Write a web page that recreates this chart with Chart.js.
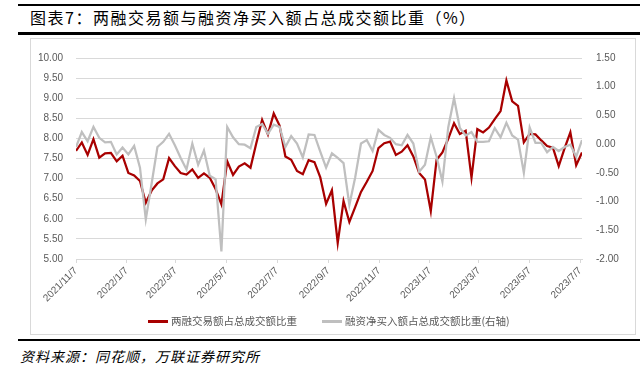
<!DOCTYPE html>
<html>
<head>
<meta charset="utf-8">
<script src="https://cdn.jsdelivr.net/npm/chart.js@4.4.0/dist/chart.umd.min.js"></script>
<style>
  body { margin: 0; width: 644px; height: 372px; background: #fff; position: relative; overflow: hidden;
         font-family: "Noto Sans CJK SC", sans-serif; }
  .rule { position: absolute; left: 18px; width: 622px; background: #000; }
  #title { position: absolute; left: 30px; top: 7px; font-size: 16px; letter-spacing: 1.5px; line-height: 20px; color: #000; white-space: nowrap; }
  #box { position: absolute; left: 30px; top: 38px; width: 606px; height: 297px; border: 1px solid #d9d9d9; box-sizing: border-box; }
  #chartWrap { position: absolute; left: 0; top: 38px; width: 644px; height: 296px; }
  .leg { position: absolute; top: 313px; font-size: 10.5px; line-height: 16px; color: #595959; white-space: nowrap; }
  .leg i { display: inline-block; width: 20px; height: 3px; vertical-align: middle; margin-right: 3px; position: relative; top: -1px; }
  #source { position: absolute; left: 20px; top: 346px; font-size: 14px; letter-spacing: 1px; line-height: 20px; font-style: italic; color: #000; white-space: nowrap; }
</style>
</head>
<body>
<div class="rule" style="top:4px;height:2px"></div>
<div id="title">图表7：两融交易额与融资净买入额占总成交额比重（%）</div>
<div class="rule" style="top:32px;height:3px"></div>
<div id="box"></div>
<div id="chartWrap"><canvas id="chart"></canvas></div>
<div class="leg" style="left:148px"><i style="background:#a80000"></i>两融交易额占总成交额比重</div>
<div class="leg" style="left:322px"><i style="background:#bfbfbf"></i>融资净买入额占总成交额比重(右轴)</div>
<div class="rule" style="top:339px;height:2px"></div>
<div id="source">资料来源：同花顺，万联证券研究所</div>

<script>
// weekly observations starting 2021/11/7
const startDate = new Date(2021, 10, 7);

const marginTradeShare = [
  7.69, 7.90, 7.59, 7.98, 7.52, 7.63, 7.64, 7.43, 7.57, 7.14,
  7.08, 6.94, 6.40, 6.70, 6.88, 6.98, 7.51, 7.31, 7.14, 7.10,
  7.23, 7.02, 7.13, 7.02, 6.74, 6.36, 7.43, 7.09, 7.30, 7.38,
  7.27, 7.88, 8.46, 8.10, 8.62, 8.32, 7.55, 7.47, 7.19, 7.11,
  7.46, 7.41, 7.03, 6.37, 6.71, 5.40, 6.44, 5.92, 6.29, 6.67,
  6.92, 7.19, 7.76, 7.88, 7.92, 7.59, 7.67, 7.83, 7.55, 7.14,
  6.98, 6.19, 7.47, 7.65, 7.99, 8.38, 8.11, 8.19, 7.02, 8.23,
  8.15, 8.27, 8.48, 8.68, 9.44, 8.92, 8.81, 7.90, 8.11, 8.10,
  7.95, 7.81, 7.77, 7.31, 7.75, 8.15, 7.33, 7.65
];

const netBuyShare = [
  -0.05, 0.21, 0.05, 0.30, 0.11, 0.03, 0.04, -0.18, -0.06, -0.18,
  -0.03, -0.41, -1.31, -0.69, -0.05, 0.04, 0.18, -0.02, -0.24, -0.44,
  0.01, -0.36, -0.11, -0.55, -0.61, -1.87, 0.30, 0.12, 0.00, -0.01,
  -0.07, 0.30, 0.35, 0.18, 0.34, 0.30, -0.05, 0.14, 0.01, -0.23,
  0.17, 0.16, -0.13, -0.41, -0.16, -0.24, -0.33, -1.06, -0.58, 0.01,
  0.07, -0.12, 0.25, 0.16, 0.11, 0.00, -0.02, 0.16, 0.01, -0.48,
  -0.36, 0.12, -0.22, -0.65, 0.29, 0.80, 0.28, 0.15, 0.21, 0.04,
  0.04, 0.05, 0.28, 0.12, 0.37, 0.15, 0.08, -0.50, 0.29, 0.02,
  0.02, -0.14, -0.05, -0.12, -0.05, -0.01, -0.22, 0.07
];

const tickLabels = ['2021/11/7', '2022/1/7', '2022/3/7', '2022/5/7', '2022/7/7', '2022/9/7',
                    '2022/11/7', '2023/1/7', '2023/3/7', '2023/5/7', '2023/7/7'];

const DAY = 86400000;
function dayOffset(str) {
  const [y, m, d] = str.split('/').map(Number);
  return Math.round((new Date(y, m - 1, d) - startDate) / DAY);
}
const tickDays = tickLabels.map(dayOffset);

const redPoints = marginTradeShare.map((v, i) => ({ x: i * 7, y: v }));
const grayPoints = netBuyShare.map((v, i) => ({ x: i * 7, y: v }));

const axisFont = { family: '"Liberation Sans", Arial, sans-serif', size: 10 };
const labelColor = '#595959';
const gridColor = '#d9d9d9';

new Chart(document.getElementById('chart'), {
  type: 'line',
  data: {
    datasets: [{
      label: '两融交易额占总成交额比重',
      data: redPoints,
      yAxisID: 'yLeft',
      borderColor: '#a80000',
      borderWidth: 2.25,
      pointRadius: 0,
      tension: 0,
      order: 1
    }, {
      label: '融资净买入额占总成交额比重(右轴)',
      data: grayPoints,
      yAxisID: 'yRight',
      borderColor: '#bfbfbf',
      borderWidth: 2.25,
      pointRadius: 0,
      tension: 0,
      order: 0
    }]
  },
  options: {
    responsive: true,
    maintainAspectRatio: false,
    animation: false,
    layout: { padding: { top: 14, left: 0, right: 0, bottom: 0 } },
    plugins: { legend: { display: false }, tooltip: { enabled: false } },
    scales: {
      x: {
        type: 'linear',
        min: 0,
        max: 609,
        afterBuildTicks: s => { s.ticks = tickDays.map(v => ({ value: v })); },
        afterFit: s => { s.height = 75; },
        ticks: {
          autoSkip: false,
          minRotation: 45,
          maxRotation: 45,
          padding: 2,
          color: labelColor,
          font: axisFont,
          callback: v => tickLabels[tickDays.indexOf(v)]
        },
        grid: { drawOnChartArea: false, drawTicks: true, tickLength: 4, color: gridColor },
        border: { display: true, color: gridColor }
      },
      yLeft: {
        position: 'left',
        min: 5,
        max: 10,
        afterFit: s => { s.width = 76; },
        ticks: { stepSize: 0.5, padding: 13, color: labelColor, font: axisFont, callback: v => v.toFixed(2) },
        grid: { color: gridColor, drawTicks: false },
        border: { display: false }
      },
      yRight: {
        position: 'right',
        min: -2,
        max: 1.5,
        afterFit: s => { s.width = 62; },
        ticks: { stepSize: 0.5, padding: 14, color: labelColor, font: axisFont, callback: v => v.toFixed(2) },
        grid: { drawOnChartArea: false, drawTicks: false },
        border: { display: false }
      }
    }
  }
});
</script>
</body>
</html>
